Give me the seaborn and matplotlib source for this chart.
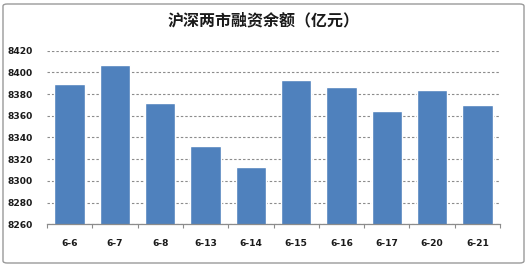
import matplotlib
matplotlib.use("Agg")
import matplotlib.pyplot as plt
import seaborn as sns
import pandas as pd
from matplotlib.patches import FancyBboxPatch
from matplotlib.ticker import FixedLocator

dates = ["6-6", "6-7", "6-8", "6-13", "6-14", "6-15", "6-16", "6-17", "6-20", "6-21"]
balances = [8389.6, 8406.5, 8371.5, 8331.9, 8313.1, 8392.7, 8386.3, 8364.1, 8383.5, 8369.7]
yticks = [8260, 8280, 8300, 8320, 8340, 8360, 8380, 8400, 8420]
title = "沪深两市融资余额（亿元）"

df = pd.DataFrame({"date": dates, "balance": balances})

sns.set_theme(style="white")
plt.rcParams['font.family'] = ['Noto Sans CJK SC', 'DejaVu Sans']

fig = plt.figure(figsize=(5.28, 2.66), dpi=100)
ax = fig.add_axes([47/528, 1-224.3/266, (500-47)/528, (224.3-50.7)/266])

sns.barplot(data=df, x="date", y="balance", color="#4F81BD", saturation=1,
            width=0.67, ax=ax, zorder=3)

ax.set_ylim(8260, 8420)
ax.set_xlim(-0.5, len(dates)-0.5)
ax.set_yticks(yticks)
ax.set_yticklabels([str(v) for v in yticks])
ax.yaxis.grid(True, linestyle=(0, (2.2, 1.8)), color="#8C8C8C", linewidth=0.8, zorder=0)
ax.set_axisbelow(True)
ax.set_xlabel("")
ax.set_ylabel("")

for s in ["left", "top", "right"]:
    ax.spines[s].set_visible(False)
ax.spines["bottom"].set_color("#8C8C8C")
ax.spines["bottom"].set_linewidth(0.9)
ax.spines["bottom"].set_zorder(4)

ax.xaxis.set_minor_locator(FixedLocator([i - 0.5 for i in range(len(dates)+1)]))
ax.tick_params(axis="x", which="minor", length=3, width=0.8, color="#8C8C8C", direction="out", bottom=True)
ax.tick_params(axis="x", which="major", length=0, pad=10.5, bottom=True)
ax.tick_params(axis="y", length=0, pad=10)
for lab in ax.get_xticklabels() + ax.get_yticklabels():
    lab.set_fontweight("bold")
    lab.set_fontsize(6.6)
    lab.set_color("#1A1A1A")
    lab.set_family(["DejaVu Sans"])

fig.text(0.5, 1-20.7/266, title, ha="center", va="center", fontsize=11.5,
         fontweight="bold", color="#1A1A1A", family=["Noto Sans CJK SC", "DejaVu Sans"])

border = FancyBboxPatch((3/528, 3/266), 521/528, 259/266,
                        boxstyle="round,pad=0,rounding_size=0.008",
                        transform=fig.transFigure, fill=False,
                        edgecolor="#9A9A9A", linewidth=1.0)
fig.patches.append(border)

fig.savefig("out.png", dpi=100)
